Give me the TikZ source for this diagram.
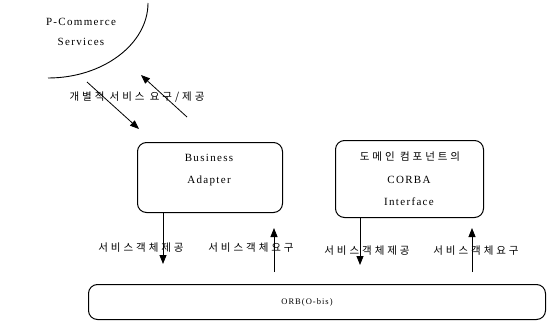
\documentclass[tikz,border=0pt]{standalone}
\usepackage{fontspec}
\setmainfont{Liberation Serif}[LetterSpace=12]
\newfontfamily\kr{Noto Sans CJK KR}[LetterSpace=28]
\usetikzlibrary{arrows.meta}
\begin{document}
\begin{tikzpicture}[x=1pt,y=-1pt,
  box/.style={draw, rounded corners=9pt, line width=1pt, anchor=north west, inner sep=0},
  arr/.style={-{Triangle[length=9pt,width=7pt]}, line width=0.8pt},
  lat/.style={font=\fontsize{11}{13}\selectfont, inner sep=0},
  kor/.style={font=\kr\fontsize{10.5}{12}\selectfont, inner sep=0}]
\useasboundingbox (0,0) rectangle (559,321);
% P-Commerce services arc
\draw[line width=0.9pt] (48,78) .. controls (103,78) and (148,44) .. (148,3);
\node[lat] (pc) at (81,22) {P-Commerce};
\node[lat] (sv) at (81,42) {Services};
% boxes
\node[box, minimum width=145pt, minimum height=70pt] (ba) at (137,142) {};
\node[lat] (ba1) at (209,158) {Business};
\node[lat] (ba2) at (209,181) {Adapter};
\node[box, minimum width=148pt, minimum height=77pt] (ci) at (335,140) {};
\node[kor] (ci1) at (410,157) {도메인 컴포넌트의};
\node[lat] (ci2) at (409,180) {CORBA};
\node[lat] (ci3) at (409,202) {Interface};
\node[box, minimum width=457pt, minimum height=35pt] (orb) at (88,284) {};
\node[font=\fontsize{8.5}{10}\selectfont, inner sep=0] (orbt) at (307,302) {ORB(O-bis)};
% top arrows
\coordinate (a1s) at (87,82);
\coordinate (a1e) at (139,129);
\coordinate (a2s) at (187,117);
\coordinate (a2e) at (141,75);
\draw[arr] (a1s) -- (a1e);
\draw[arr] (a2s) -- (a2e);
\node[kor] (lbl) at (137,97) {개별적 서비스 요구/제공};
% bottom arrows
\coordinate (d1) at (163,264);
\coordinate (u1) at (274,272);
\coordinate (u1e) at (274,228);
\coordinate (d2) at (360,265);
\coordinate (u2) at (472,272);
\coordinate (u2e) at (472,228);
\draw[arr] (ba.south -| d1) -- (d1);
\draw[arr] (u1) -- (u1e);
\draw[arr] (ci.south -| d2) -- (d2);
\draw[arr] (u2) -- (u2e);
\node[kor] (l1) at (141,248) {서비스객체제공};
\node[kor] (l2) at (251,248) {서비스객체요구};
\node[kor] (l3) at (367,251) {서비스객체제공};
\node[kor] (l4) at (476,251) {서비스객체요구};
\end{tikzpicture}
\end{document}
